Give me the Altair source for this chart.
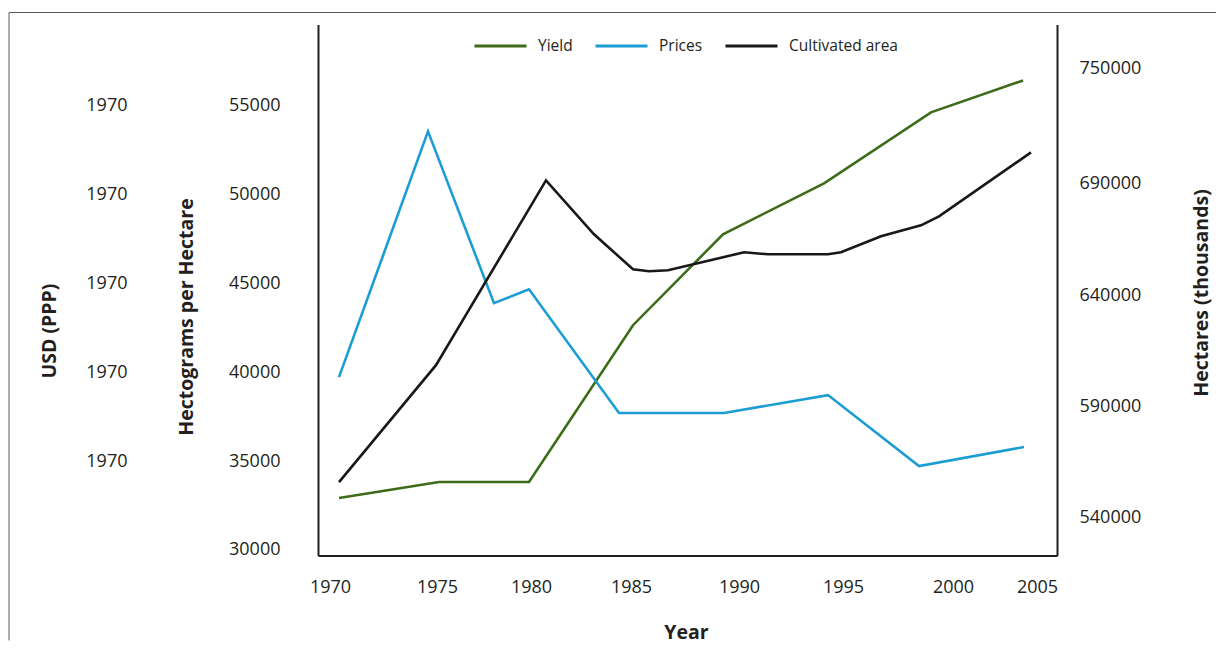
import altair as alt
import pandas as pd

# ---- data ----
yield_years = [1970.4, 1975.4, 1979.9, 1985.1, 1989.6, 1994.65, 2000.0, 2004.6]
yield_values = [32920, 33820, 33820, 42640, 47750, 50620, 54610, 56400]

price_years = [1970.4, 1974.85, 1978.15, 1979.9, 1984.4, 1989.65, 1994.85, 1999.4, 2004.65]
price_values = [39720, 53540, 43880, 44660, 37700, 37700, 38710, 34720, 35790]

area_years = [1970.4, 1975.25, 1980.75, 1983.15, 1985.1, 1985.9, 1986.85, 1990.65,
              1991.85, 1994.85, 1995.5, 1997.5, 1999.5, 2000.4, 2005.0]
area_values = [555940, 608480, 691550, 667300, 651590, 650690, 651140, 659220,
               658320, 658320, 659220, 666400, 671340, 675390, 704120]

series_names = ["Yield", "Prices", "Cultivated area"]
series_colors = ["#3d6b1a", "#1b9dd3", "#1a1718"]

x_tick_values = [1969.95, 1975.3, 1980.0, 1985.0, 1990.4, 1995.6, 2001.1, 2005.3]
x_tick_labels = ["1970", "1975", "1980", "1985", "1990", "1995", "2000", "2005"]

hg_tick_values = [30000, 35000, 40000, 45000, 50000, 55000]
hg_tick_labels = ["30000", "35000", "40000", "45000", "50000", "55000"]

usd_tick_values = [35000, 40000, 45000, 50000, 55000]
usd_tick_labels = ["1970", "1970", "1970", "1970", "1970"]

ha_tick_values = [540000, 590000, 640000, 690000, 742000]
ha_tick_labels = ["540000", "590000", "640000", "690000", "750000"]


def lookup_expr(values, labels):
    vals = ",".join(repr(v) for v in values)
    labs = ",".join("'%s'" % l for l in labels)
    return "[%s][indexof([%s], datum.value)]" % (labs, vals)


TXT = "#231f20"
FONT = "Open Sans"

left_df = pd.concat([
    pd.DataFrame({"year": yield_years, "value": yield_values, "series": "Yield"}),
    pd.DataFrame({"year": price_years, "value": price_values, "series": "Prices"}),
])
area_df = pd.DataFrame({"year": area_years, "value": area_values, "series": "Cultivated area"})
usd_df = pd.DataFrame({"usd": usd_tick_values})

x_enc = alt.X(
    "year:Q",
    scale=alt.Scale(domain=[1969.35, 2006.3], nice=False, zero=False),
    axis=alt.Axis(
        values=x_tick_values, labelExpr=lookup_expr(x_tick_values, x_tick_labels),
        ticks=False, tickSize=0, labelPadding=23, labelFontSize=18, labelFlush=False,
        labelOverlap=False, domainColor=TXT, domainWidth=2, grid=False,
        title="Year", titleFontSize=19.5, titleFontWeight="bold",
        titleX=368, titleY=77, titleBaseline="middle",
    ),
)

hg_scale = alt.Scale(domain=[29690, 59550], nice=False, zero=False)

color_enc = alt.Color(
    "series:N",
    scale=alt.Scale(domain=series_names, range=series_colors),
    legend=alt.Legend(
        title=None, orient="none", legendX=155, legendY=-6, direction="horizontal",
        symbolType="stroke", symbolSize=2704, symbolStrokeWidth=3,
        labelFont=FONT, labelFontSize=15.5, labelColor=TXT, labelOffset=10,
        columnPadding=16,
    ),
)

lines_left = alt.Chart(left_df).mark_line(strokeWidth=2.6).encode(
    x=x_enc,
    y=alt.Y(
        "value:Q", scale=hg_scale,
        axis=alt.Axis(
            orient="left", values=hg_tick_values,
            labelExpr=lookup_expr(hg_tick_values, hg_tick_labels),
            ticks=False, tickSize=0, labelPadding=38, labelFontSize=18, labelFlush=False,
            labelOverlap=False, domainColor=TXT, domainWidth=2, grid=False,
            title="Hectograms per Hectare", titleFontSize=19.5, titleFontWeight="bold",
            titleX=-132, titleY=292, titleBaseline="middle", titleAngle=270,
        ),
    ),
    color=color_enc,
    detail="series:N",
)

usd_axis_layer = alt.Chart(usd_df).mark_point(opacity=0).encode(
    y=alt.Y(
        "usd:Q", scale=hg_scale,
        axis=alt.Axis(
            orient="left", values=usd_tick_values,
            labelExpr=lookup_expr(usd_tick_values, usd_tick_labels),
            ticks=False, tickSize=0, labelPadding=191, labelFontSize=18, labelFlush=False,
            labelOverlap=False, domain=False, grid=False,
            title="USD (PPP)", titleFontSize=19.5, titleFontWeight="bold",
            titleX=-269, titleY=306, titleBaseline="middle", titleAngle=270,
        ),
    ),
)

lines_area = alt.Chart(area_df).mark_line(strokeWidth=2.6).encode(
    x=x_enc,
    y=alt.Y(
        "value:Q", scale=alt.Scale(domain=[522940, 761600], nice=False, zero=False),
        axis=alt.Axis(
            orient="right", values=ha_tick_values,
            labelExpr=lookup_expr(ha_tick_values, ha_tick_labels),
            ticks=False, tickSize=0, labelPadding=22, labelFontSize=18, labelFlush=False,
            labelOverlap=False, domainColor=TXT, domainWidth=2, grid=False,
            title="Hectares (thousands)", titleFontSize=19.5, titleFontWeight="bold",
            titleX=144, titleY=268, titleBaseline="middle", titleAngle=270,
        ),
    ),
    color=color_enc,
)

one = pd.DataFrame({"a": [0]})
frame_top = alt.Chart(one).mark_rule(color="#5a5a5a", strokeWidth=1).encode(
    x=alt.value(-309), x2=alt.value(898), y=alt.value(-12)
)
frame_left = alt.Chart(one).mark_rule(color="#5a5a5a", strokeWidth=1).encode(
    x=alt.value(-309), y=alt.value(-12), y2=alt.value(616)
)

chart = alt.layer(
    frame_top, frame_left, lines_left, usd_axis_layer, lines_area
).resolve_scale(
    y="independent"
).properties(
    width=739, height=531,
    padding={"left": 0, "top": 3.5, "right": 0, "bottom": 2},
).configure_axis(
    labelFont=FONT, titleFont=FONT, labelColor=TXT, titleColor=TXT,
).configure_view(stroke=None)

chart.save("out.html", embed_options={"renderer": "svg", "actions": False})
